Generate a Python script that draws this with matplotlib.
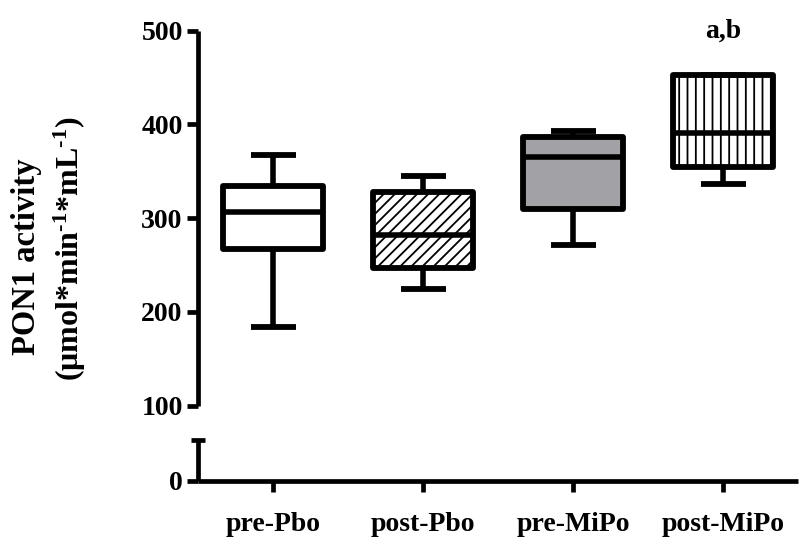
import matplotlib
matplotlib.use("Agg")
import matplotlib.pyplot as plt

# ---- data ----
categories = ["pre-Pbo", "post-Pbo", "pre-MiPo", "post-MiPo"]
whisker_low = [184, 224, 271, 336]
q1_values = [267, 247, 310, 355]
medians = [307, 282, 365, 391]
q3_values = [334, 328, 387, 453]
whisker_high = [367, 345, 393, 453]
y_ticks_top = [100, 200, 300, 400, 500]
annotation = "a,b"

plt.rcParams["font.family"] = ["Liberation Serif", "DejaVu Serif"]
plt.rcParams["font.weight"] = "bold"
plt.rcParams["mathtext.fontset"] = "custom"
plt.rcParams["mathtext.rm"] = "Liberation Serif:bold"
plt.rcParams["mathtext.bf"] = "Liberation Serif:bold"
plt.rcParams["mathtext.it"] = "Liberation Serif:bold"
plt.rcParams["hatch.linewidth"] = 1.3

W, H = 807, 546
fig = plt.figure(figsize=(W / 100, H / 100), dpi=100)

x_left, x_right = 198, 798
y500, y100, y0, ybreak = 30.7, 405.7, 481, 440
ax = fig.add_axes([x_left / W, 1 - y100 / H, (x_right - x_left) / W, (y100 - y500) / H])
axb = fig.add_axes([x_left / W, 1 - y0 / H, (x_right - x_left) / W, (y0 - ybreak) / H])

lw_axis = 3.4
tick_len = 8
fs = 20

positions = list(range(1, len(categories) + 1))
stats = []
for i, c in enumerate(categories):
    stats.append(dict(label=c, whislo=whisker_low[i], q1=q1_values[i], med=medians[i],
                      q3=q3_values[i], whishi=whisker_high[i], fliers=[]))

bp = ax.bxp(stats, positions=positions, widths=0.667, capwidths=0.30,
            patch_artist=True, showfliers=False,
            boxprops=dict(linewidth=4.2, edgecolor="black", joinstyle="round"),
            medianprops=dict(color="black", linewidth=4.0, solid_capstyle="butt"),
            whiskerprops=dict(color="black", linewidth=4.0, solid_capstyle="butt"),
            capprops=dict(color="black", linewidth=4.2, solid_capstyle="butt"))

faces = ["white", "white", "#a2a2a6", "white"]
hatches = [None, "///", None, "||"]
for patch, fc, h in zip(bp["boxes"], faces, hatches):
    patch.set_facecolor(fc)
    if h:
        patch.set_hatch(h)

ax.set_xlim(0.5, 4.5)
ax.set_ylim(100, 500)
ax.set_yticks(y_ticks_top)
ax.set_yticks([100], minor=True)
ax.set_xticks([])
for s in ["top", "right", "bottom"]:
    ax.spines[s].set_visible(False)
ax.spines["left"].set_linewidth(lw_axis)
ax.spines["left"].set_capstyle("butt")
ax.tick_params(axis="y", which="major", length=tick_len, width=lw_axis, labelsize=fs, pad=3)
ax.tick_params(axis="y", which="minor", direction="inout", length=10, width=lw_axis)
for t in ax.get_yticklabels():
    t.set_fontweight("bold")

ax.text(positions[-1], 500, annotation, ha="center", va="center", fontsize=fs,
        fontweight="bold", clip_on=False)

# lower segment
axb.set_xlim(0.5, 4.5)
axb.set_ylim(0, (y0 - ybreak) / ((y100 - y500) / 400))
axb.set_yticks([0])
axb.set_yticks([axb.get_ylim()[1]], minor=True)
axb.set_yticklabels(["0"])
axb.set_xticks(positions)
axb.set_xticklabels(categories)
for s in ["top", "right"]:
    axb.spines[s].set_visible(False)
for s in ["left", "bottom"]:
    axb.spines[s].set_linewidth(lw_axis)
    axb.spines[s].set_capstyle("butt")
axb.tick_params(axis="y", which="major", length=tick_len, width=lw_axis, labelsize=fs, pad=3)
axb.tick_params(axis="y", which="minor", direction="inout", length=10, width=lw_axis)
axb.tick_params(axis="x", length=tick_len, width=lw_axis, labelsize=fs, pad=14)
for t in axb.get_xticklabels() + axb.get_yticklabels():
    t.set_fontweight("bold")

# y label (two lines)
fig.text(27 / W, 1 - 257 / H, "PON1 activity", rotation=90, ha="center", va="center",
         fontsize=23.5, fontweight="bold")
fig.text(70 / W, 1 - 249 / H, r"(μmol*min$^{\text{-1}}$*mL$^{\text{-1}}$)", rotation=90,
         ha="center", va="center", fontsize=23, fontweight="bold")

fig.savefig("out.png", dpi=100)
